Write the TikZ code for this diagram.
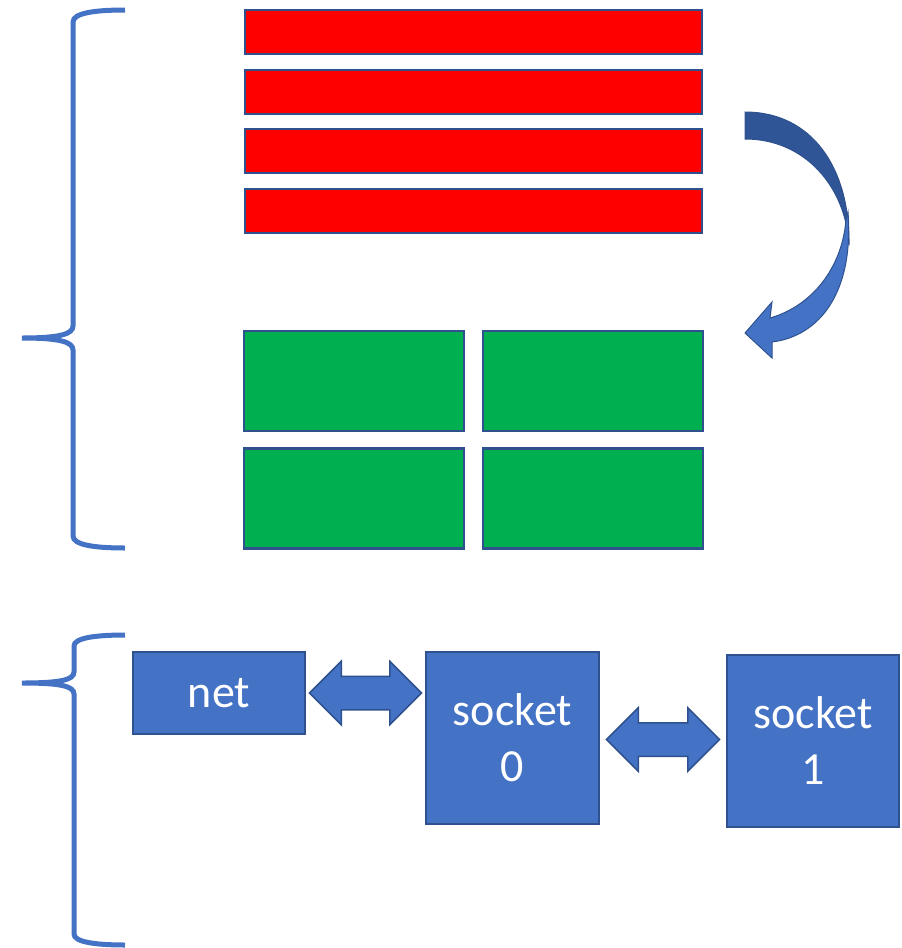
\documentclass[tikz,border=0pt]{standalone}
\usepackage{fontspec}
\setmainfont{Carlito}
\definecolor{barred}{RGB}{255, 0, 0}
\definecolor{tilegreen}{RGB}{0, 176, 80}
\definecolor{boxblue}{RGB}{68, 114, 196}
\definecolor{edgeblue}{RGB}{47, 82, 143}
\definecolor{backblue}{RGB}{47, 85, 151}
\usetikzlibrary{shapes.arrows, positioning, calc}

\begin{document}
\begin{tikzpicture}[x=1pt, y=-1pt,
		bar/.style={rectangle, draw=edgeblue, fill=barred, line width=2.5pt,
			minimum width=457pt, minimum height=44pt, inner sep=0pt},
		tile/.style={rectangle, draw=edgeblue, fill=tilegreen, line width=2.5pt,
			minimum width=220pt, minimum height=100pt, inner sep=0pt},
		unit/.style={rectangle, draw=edgeblue, fill=boxblue, line width=1.5pt,
			text=white, align=center, inner sep=0pt,
			font=\fontsize{46}{56}\selectfont},
		link/.style={double arrow, draw=edgeblue, fill=boxblue, line width=1.5pt,
			inner xsep=0pt, inner ysep=16pt, double arrow head extend=15pt},
		brace/.style={draw=boxblue, line width=5pt}
		]
		\useasboundingbox (0,0) rectangle (902,948);

		% Bars
		\foreach \i/\y in {1/32, 2/92, 3/151, 4/211}
		\node[bar] (bar\i) at (473.5, \y) {};

		% Tiles
		\node[tile] (tile1) at (354, 381)   {};
		\node[tile] (tile2) at (593, 381)   {};
		\node[tile] (tile3) at (354, 498.5) {};
		\node[tile] (tile4) at (593, 498.5) {};

		% Curved arrow
		\fill[backblue, draw=edgeblue, line width=1pt]
		(745,112) .. controls (812,112) and (850,168) .. (849,245)
		.. controls (846,188) and (806,139) .. (745,139) -- cycle;
		\fill[boxblue, draw=edgeblue, line width=1pt]
		(848,212) .. controls (854,292) and (820,336) .. (772,342)
		-- (772,358) -- (745,333) -- (772,302) -- (770,318)
		.. controls (812,306) and (842,268) .. (846,220) -- cycle;

		% Braces
		\draw[brace] (125,10) .. controls (95,10) and (73,13) .. (73,22) -- (73,326)
		.. controls (73,334) and (60,338) .. (22,338)
		.. controls (60,338) and (73,342) .. (73,350) -- (73,536)
		.. controls (73,545) and (95,548) .. (125,548);
		\draw[brace] (125,635) .. controls (95,635) and (74,638) .. (74,646) -- (74,672)
		.. controls (74,680) and (60,683) .. (22,683)
		.. controls (60,683) and (74,686) .. (74,694) -- (74,934)
		.. controls (74,942) and (95,945) .. (125,945);

		% Units
		\node[unit, minimum width=172pt, minimum height=82pt] (net) at (219, 693) {net};
		\node[unit, minimum width=173pt, minimum height=172pt] (sock0) at (512.5, 738) {socket\\0};
		\node[unit, minimum width=172pt, minimum height=172pt] (sock1) at (813, 741) {socket\\1};

		% Links
		\node[link, minimum height=112pt] (l01) at ($(net.east)!.5!(sock0.west|-net.east)$) {};
		\node[link, minimum height=113pt] (l12) at ($(sock0.east)!.5!(sock1.west)$) {};
	\end{tikzpicture}
\end{document}
